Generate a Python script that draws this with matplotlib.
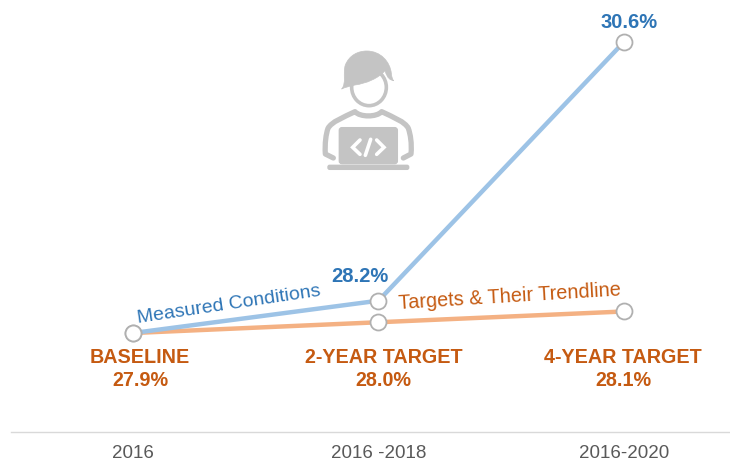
import matplotlib.pyplot as plt
from matplotlib.patches import Ellipse, FancyBboxPatch, PathPatch
from matplotlib.path import Path

periods = ["2016", "2016 -2018", "2016-2020"]
measured = [27.9, 28.2, 30.6]
targets = [27.9, 28.0, 28.1]
target_names = ["BASELINE", "2-YEAR TARGET", "4-YEAR TARGET"]

BLUE = "#9DC3E6"
ORANGE = "#F4B183"
BLUE_TEXT = "#2E75B6"
ORANGE_TEXT = "#C55A11"
GRAY = "#C4C4C4"

plt.rcParams["font.family"] = ["Liberation Sans", "DejaVu Sans"]

fig = plt.figure(figsize=(7.3, 4.62), dpi=100)
ax = fig.add_axes([11 / 730, 30 / 462, 719 / 730, 432 / 462])
xs = list(range(len(periods)))

# lines, orange first so the blue one sits on top at the baseline
ax.plot(xs, targets, color=ORANGE, lw=3.2, solid_capstyle="round", zorder=2)
ax.plot(xs, measured, color=BLUE, lw=3.2, solid_capstyle="round", zorder=3)
for series in (targets, measured):
    ax.plot(xs, series, linestyle="none", marker="o", ms=11.5, mfc="white",
            mec="#B0B0B0", mew=1.3, zorder=4)

ax.set_xlim(-0.497, 2.432)
ax.set_ylim(26.982, 30.989)
ax.set_xticks(xs)
ax.set_xticklabels(periods, fontsize=13.5, color="#595959")
ax.set_yticks([])
ax.tick_params(axis="x", length=0, pad=9.5)
for side in ("top", "left", "right"):
    ax.spines[side].set_visible(False)
ax.spines["bottom"].set_color("#D9D9D9")
ax.spines["bottom"].set_linewidth(1)

# value labels on the measured line
ax.annotate(f"{measured[1]:.1f}%", (xs[1], measured[1]), xytext=(-19, 24),
            textcoords="offset pixels", ha="center", va="center",
            fontsize=14.5, fontweight="bold", color=BLUE_TEXT)
ax.annotate(f"{measured[2]:.1f}%", (xs[2], measured[2]), xytext=(5, 19),
            textcoords="offset pixels", ha="center", va="center",
            fontsize=14.5, fontweight="bold", color=BLUE_TEXT)

# target names and values under the points
label_shift = [7, 5, -1]
for x, name, val in zip(xs, target_names, targets):
    ax.annotate(f"{name}\n{val:.1f}%", (x, 27.9), xytext=(label_shift[x], -36),
                textcoords="offset pixels", ha="center", va="center",
                fontsize=14.2, fontweight="bold", color=ORANGE_TEXT, linespacing=1.25)

ax.text(0.39, 28.16, "Measured Conditions", rotation=8.5, rotation_mode="anchor",
        ha="center", va="center", fontsize=14, color=BLUE_TEXT)
ax.text(1.536, 28.234, "Targets & Their Trendline", rotation=3.5, rotation_mode="anchor",
        ha="center", va="center", fontsize=14.3, color=ORANGE_TEXT)

# person with laptop icon, in its own small axes
icon = fig.add_axes([300 / 730, 1 - 180 / 462, 140 / 730, 150 / 462])
icon.set_xlim(0, 420)
icon.set_ylim(450, 0)
icon.axis("off")

M, L, C, Z = Path.MOVETO, Path.LINETO, Path.CURVE4, Path.CLOSEPOLY

# shoulders, collar and arms as one thick outline
arms = Path([(100, 384), (76, 372),
             (74, 340), (78, 312), (84, 295),
             (95, 275), (130, 262), (165, 245),
             (180, 262), (230, 262), (245, 245),
             (280, 262), (315, 275), (325, 295),
             (331, 312), (336, 340), (333, 372),
             (310, 384)],
            [M, L] + [C] * 15 + [L])
icon.add_patch(PathPatch(arms, fc="none", ec=GRAY, lw=3.8, capstyle="round", joinstyle="round"))

# head ring, then hair
icon.add_patch(Ellipse((207, 172), 104, 110, fc="white", ec=GRAY, lw=2.6))
hair = Path([(125, 177),
             (140, 160), (128, 130), (136, 105),
             (148, 75), (175, 63), (200, 63),
             (242, 63), (270, 95), (274, 130),
             (275, 140), (277, 148), (281, 152),
             (270, 150), (262, 145), (255, 122),
             (235, 145), (200, 160), (165, 165),
             (150, 168), (135, 172), (125, 177),
             (125, 177)],
            [M] + [C] * 21 + [Z])
icon.add_patch(PathPatch(hair, fc=GRAY, ec=GRAY, lw=0.5, joinstyle="round"))

# laptop and its base
icon.add_patch(FancyBboxPatch((118, 293), 174, 108, boxstyle="round,pad=0,rounding_size=8",
                              fc=GRAY, ec=GRAY, lw=1))
icon.add_patch(FancyBboxPatch((84, 406), 242, 12, boxstyle="round,pad=0,rounding_size=5",
                              fc=GRAY, ec=GRAY, lw=1))
for pts in ([(180, 330), (158, 352), (180, 373)],
            [(230, 330), (252, 352), (230, 373)],
            [(196, 376), (212, 328)]):
    icon.plot(*zip(*pts), color="white", lw=2.6, solid_capstyle="round", solid_joinstyle="miter")

fig.savefig("out.png", dpi=100)
